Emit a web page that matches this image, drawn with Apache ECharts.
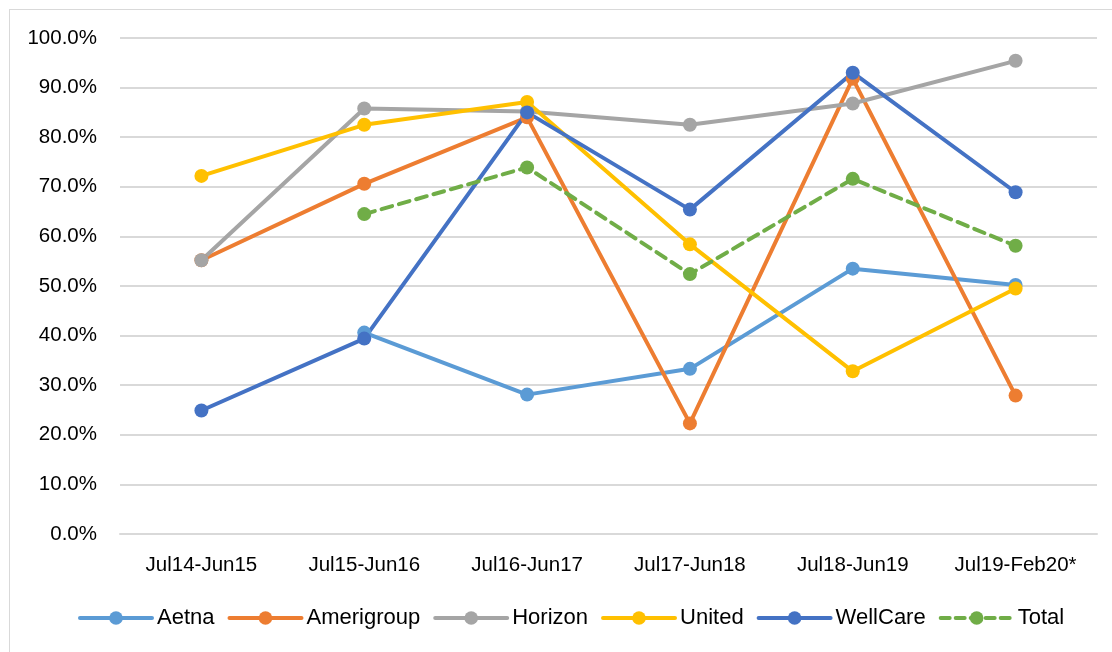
<!DOCTYPE html>
<html><head><meta charset="utf-8">
<script src="https://cdn.jsdelivr.net/npm/echarts@6/dist/echarts.min.js"></script>
<style>
html,body{margin:0;padding:0;background:#fff;}
#frame{position:absolute;left:9px;top:9px;width:1200px;height:700px;border:1px solid #D9D9D9;box-sizing:border-box;}
#chart{position:absolute;left:0;top:0;width:1112px;height:652px;}
</style></head>
<body>
<div id="frame"></div>
<div id="chart"></div>
<script>
const categories = ['Jul14-Jun15','Jul15-Jun16','Jul16-Jun17','Jul17-Jun18','Jul18-Jun19','Jul19-Feb20*'];
const aetna      = [null, 40.6, 28.1, 33.3, 53.5, 50.2];
const amerigroup = [55.2, 70.6, 84.0, 22.3, 91.8, 27.9];
const horizon    = [55.2, 85.8, 85.2, 82.5, 86.8, 95.4];
const united     = [72.2, 82.5, 87.1, 58.4, 32.8, 49.5];
const wellcare   = [24.9, 39.4, 85.0, 65.4, 93.0, 68.9];
const total      = [null, 64.5, 73.9, 52.4, 71.6, 58.1];
const yTicks = [0,10,20,30,40,50,60,70,80,90,100];
const seriesNames = ['Aetna','Amerigroup','Horizon','United','WellCare','Total'];

const font = 'Liberation Sans';
function mk(name, data, color, dashed){
  return {
    name, type:'line', data,
    symbol:'circle', symbolSize:14,
    lineStyle:{color, width:4, type: dashed ? [11,7] : 'solid', cap:'round'},
    itemStyle:{color},
    emphasis:{disabled:true},
    animation:false
  };
}
const chart = echarts.init(document.getElementById('chart'));
chart.setOption({
  animation:false,
  grid:{left:120, right:15, top:38, bottom:118, containLabel:false},
  xAxis:{
    type:'category', data:categories, boundaryGap:true,
    axisLine:{lineStyle:{color:'#D9D9D9', width:2}},
    axisTick:{show:false},
    axisLabel:{color:'#000', fontFamily:font, fontSize:20.5, margin:21}
  },
  yAxis:{
    type:'value', min:yTicks[0], max:yTicks[yTicks.length-1], interval:10,
    axisLine:{show:false}, axisTick:{show:false},
    splitLine:{lineStyle:{color:'#D9D9D9', width:2}},
    axisLabel:{color:'#000', fontFamily:font, fontSize:20.5, margin:23,
      formatter: v => v.toFixed(1) + '%'}
  },
  legend:{
    bottom:18, left:73, itemWidth:72, itemHeight:17, itemGap:13,
    textStyle:{color:'#000', fontFamily:font, fontSize:22},
    lineStyle:{width:4},
    data: seriesNames.map((n,i) => i === 5
      ? {name:n, lineStyle:{width:4, type:[9,6]}}
      : {name:n, lineStyle:{width:4}})
  },
  series:[
    mk(seriesNames[0], aetna, '#5B9BD5'),
    mk(seriesNames[1], amerigroup, '#ED7D31'),
    mk(seriesNames[2], horizon, '#A5A5A5'),
    mk(seriesNames[3], united, '#FFC000'),
    mk(seriesNames[4], wellcare, '#4472C4'),
    mk(seriesNames[5], total, '#70AD47', true)
  ]
});
</script>
</body></html>
